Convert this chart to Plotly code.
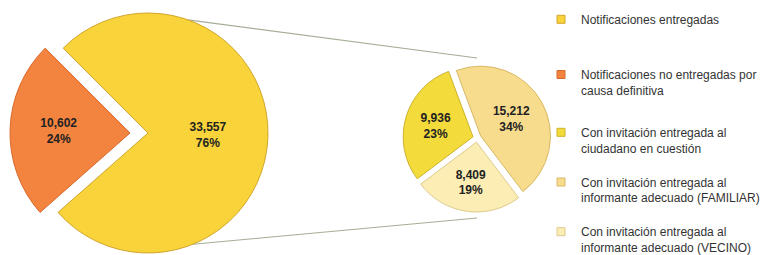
import math
import plotly.graph_objects as go

# ---------------- data ----------------
main_labels = ["Notificaciones entregadas",
               "Notificaciones no entregadas por causa definitiva"]
main_values = [33557, 10602]

sub_labels = ["Con invitación entregada al ciudadano en cuestión",
              "Con invitación entregada al informante adecuado (FAMILIAR)",
              "Con invitación entregada al informante adecuado (VECINO)"]
sub_values = [9936, 15212, 8409]

legend_labels = ["Notificaciones entregadas<br>\u00a0",
                 "Notificaciones no entregadas por<br>causa definitiva",
                 "Con invitación entregada al<br>ciudadano en cuestión",
                 "Con invitación entregada al<br>informante adecuado (FAMILIAR)",
                 "Con invitación entregada al<br>informante adecuado (VECINO)"]

# ---------------- styles ----------------
W, H = 764, 255
C_YEL = "#F8D43A"
C_ORA = "#F3843F"
C_SUB = ["#F3DB3C", "#F8DC8E", "#FBEDB3"]
E_YEL = "#D2A52A"
E_ORA = "#D8692C"
E_SUB = ["#CDB22A", "#D8B865", "#DCCB8C"]
TRANSP = "rgba(0,0,0,0)"
TXT = dict(family="Liberation Sans, Arial, sans-serif", size=12, color="#222222", weight="bold")
LEG_FONT = dict(family="Liberation Sans, Arial, sans-serif", size=12, color="#333333")

total = sum(main_values)


def lab(v):
    return f"{v:,}<br>{round(100 * v / total)}%"


def dom(cx, cy, half):
    return dict(x=[(cx - half) / W, (cx + half) / W],
                y=[(H - (cy + half)) / H, (H - (cy - half)) / H])


# geometry (pixels)
MCX, MCY, MR = 148, 133, 120
SHIFT = 18
SCX, SCY, SHALF, SPULL = 477, 138, 74, 0.06
rot_main = -45
rot_sub = -127

fig = go.Figure()

# main pie: yellow slice (orange slot hidden)
fig.add_trace(go.Pie(
    labels=main_labels, values=main_values, sort=False, direction="clockwise",
    rotation=rot_main, domain=dom(MCX, MCY, MR),
    marker=dict(colors=[C_YEL, TRANSP], line=dict(color=[E_YEL, TRANSP], width=1)),
    text=[lab(main_values[0]), ""], textinfo="text", textposition="inside",
    insidetextorientation="horizontal", textfont=TXT, showlegend=False,
    hoverinfo="label+value+percent"))

# main pie: exploded orange slice (yellow slot hidden)
fig.add_trace(go.Pie(
    labels=main_labels, values=main_values, sort=False, direction="clockwise",
    rotation=rot_main, domain=dom(MCX - SHIFT, MCY, MR),
    marker=dict(colors=[TRANSP, C_ORA], line=dict(color=[TRANSP, E_ORA], width=1)),
    text=["", lab(main_values[1])], textinfo="text", textposition="inside",
    insidetextorientation="horizontal", textfont=TXT, showlegend=False,
    hoverinfo="label+value+percent"))

# secondary pie
fig.add_trace(go.Pie(
    labels=sub_labels, values=sub_values, sort=False, direction="clockwise",
    rotation=rot_sub, domain=dom(SCX, SCY, SHALF), pull=[SPULL] * len(sub_values),
    marker=dict(colors=C_SUB, line=dict(color=E_SUB, width=1)),
    text=[lab(v) for v in sub_values], textinfo="text", textposition="inside",
    insidetextorientation="horizontal", textfont=TXT, showlegend=False,
    hoverinfo="label+value"))

# legend entries (two legend boxes: main pie / secondary pie)
leg_cols = [C_YEL, C_ORA] + C_SUB
leg_edges = [E_YEL, E_ORA] + E_SUB
for i, (name, c, e) in enumerate(zip(legend_labels, leg_cols, leg_edges)):
    fig.add_trace(go.Scatter(x=[None], y=[None], mode="markers", name=name,
                             legendgroup=f"g{i}", legend="legend" if i < 2 else "legend2",
                             marker=dict(symbol="square", size=8, color=c,
                                         line=dict(color=e, width=1)),
                             hoverinfo="skip"))

# connector lines
LINE_C = "#A4AE96"
sr_out = SHALF + 6
for ang, ey in [(70.6, SCY - sr_out), (-68, SCY + sr_out)]:
    x0 = MCX + MR * math.cos(math.radians(ang))
    y0 = MCY - MR * math.sin(math.radians(ang))
    fig.add_shape(type="line", xref="paper", yref="paper",
                  x0=x0 / W, y0=(H - y0) / H, x1=SCX / W, y1=(H - ey) / H,
                  line=dict(color=LINE_C, width=1.2), layer="below")

common_leg = dict(xanchor="left", yanchor="top", traceorder="grouped", valign="top",
                  font=LEG_FONT, bgcolor="rgba(0,0,0,0)",
                  itemclick=False, itemdoubleclick=False)

fig.update_layout(
    width=W, height=H,
    margin=dict(l=0, r=0, t=0, b=0, autoexpand=False),
    paper_bgcolor="white", plot_bgcolor="white",
    xaxis=dict(visible=False), yaxis=dict(visible=False),
    legend=dict(x=541 / W, y=1 - 5 / H, tracegroupgap=21, **common_leg),
    legend2=dict(x=541 / W, y=1 - 118 / H, tracegroupgap=15.5, **common_leg),
    showlegend=True,
)

fig.write_html("out.html", config={"displayModeBar": False},
               post_script="document.body.style.margin='0';document.body.style.overflow='hidden';")
